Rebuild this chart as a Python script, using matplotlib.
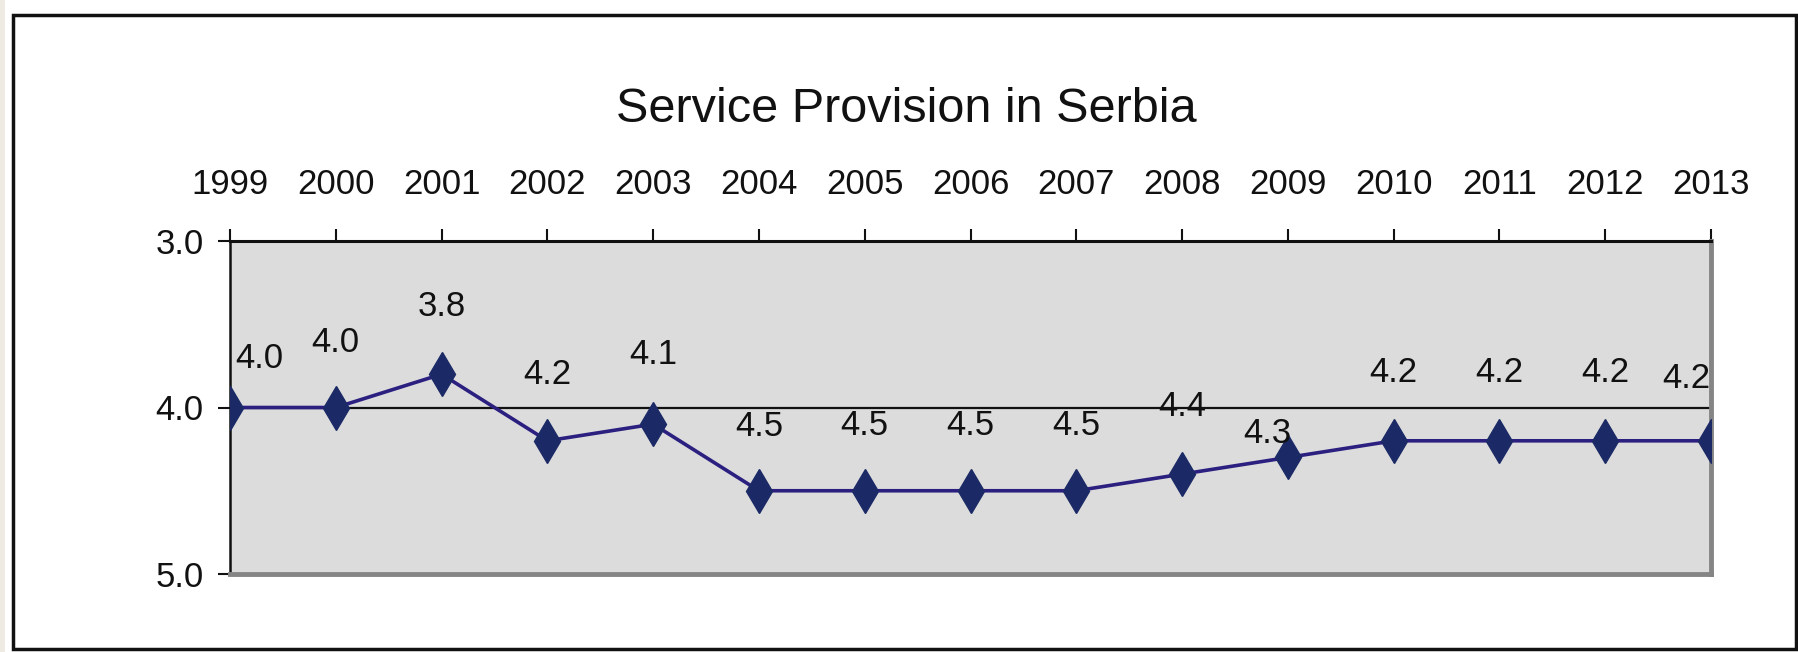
import matplotlib.pyplot as plt
from matplotlib.patches import Rectangle

# data
years = [1999, 2000, 2001, 2002, 2003, 2004, 2005, 2006, 2007,
         2008, 2009, 2010, 2011, 2012, 2013]
scores = [4.0, 4.0, 3.8, 4.2, 4.1, 4.5, 4.5, 4.5, 4.5,
          4.4, 4.3, 4.2, 4.2, 4.2, 4.2]
y_ticks = [3.0, 4.0, 5.0]

# label offsets in points (dx, dy), Excel placed some of them oddly
label_offsets = [(21, 35), (0, 47), (0, 49), (0, 48), (0, 50), (0, 46),
                 (0, 47), (0, 47), (0, 47), (0, 49), (-15, 17), (0, 49),
                 (0, 49), (0, 49), (-18, 45)]

plt.rcParams['font.family'] = ['Liberation Sans', 'DejaVu Sans']

fig = plt.figure(figsize=(17.98, 6.52), dpi=100)
fig.patch.set_facecolor('white')

# outer frame and the thin beige strip at the left edge
fig.add_artist(Rectangle((0, 0), 5 / 1798, 1, transform=fig.transFigure,
                         facecolor='#eeece2', edgecolor='none'))
fig.add_artist(Rectangle((13 / 1798, 3 / 652), 1783 / 1798, 634 / 652,
                         transform=fig.transFigure, facecolor='none',
                         edgecolor='#111111', linewidth=2.5))

ax = fig.add_axes([230 / 1798, 78 / 652, 1481 / 1798, 333 / 652])
ax.set_facecolor('#dcdcdc')

ax.plot(years, scores, color='#2b2080', linewidth=2.6, marker='d',
        markersize=22, markerfacecolor='#1b2a66', markeredgecolor='#1b2a66',
        zorder=3)

for x, y, (dx, dy) in zip(years, scores, label_offsets):
    ax.annotate(f'{y:.1f}', (x, y), xytext=(dx, dy), textcoords='offset points',
                ha='center', va='center', fontsize=25, color='#111111')

ax.set_xlim(years[0], years[-1])
ax.set_ylim(5.0, 3.0)
ax.set_xticks(years)
ax.set_xticklabels([str(y) for y in years])
ax.set_yticks(y_ticks)
ax.set_yticklabels([f'{v:.1f}' for v in y_ticks])

ax.xaxis.tick_top()
ax.tick_params(axis='x', direction='out', length=9, width=1.5, pad=20,
               labelsize=25, colors='#111111')
ax.tick_params(axis='y', direction='out', length=9, width=1.5, pad=10,
               labelsize=25, colors='#111111')

ax.axhline(4.0, color='#111111', linewidth=1.6, zorder=1)

ax.spines['top'].set_color('#111111')
ax.spines['top'].set_linewidth(2.2)
ax.spines['left'].set_color('#111111')
ax.spines['left'].set_linewidth(1.8)
ax.spines['right'].set_color('#858585')
ax.spines['right'].set_linewidth(3.5)
ax.spines['bottom'].set_color('#858585')
ax.spines['bottom'].set_linewidth(3.5)

fig.text(906 / 1798, 1 - 109 / 652, 'Service Provision in Serbia',
         ha='center', va='center', fontsize=35, color='#111111')

fig.savefig('out.png', dpi=100)
